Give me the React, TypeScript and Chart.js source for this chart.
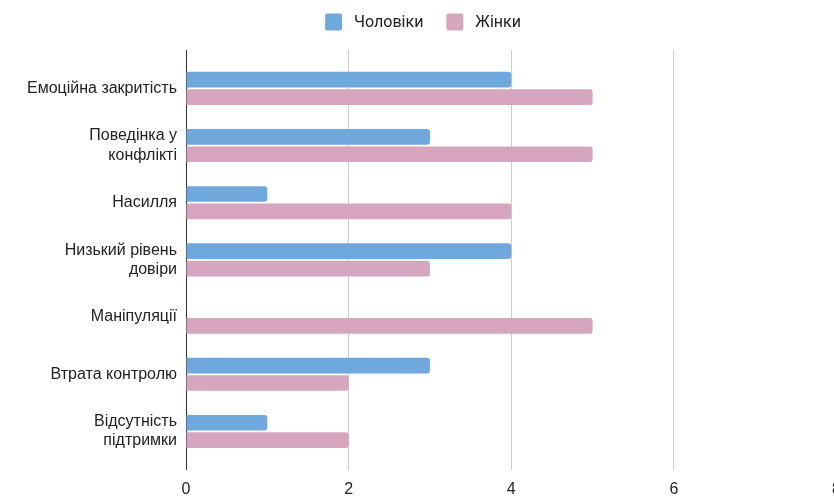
import { useEffect, useRef } from "react";
import { Chart, registerables } from "chart.js";

Chart.register(...registerables);

// ---- data ----
const categories: string[][] = [
  ["Емоційна закритість"],
  ["Поведінка у", "конфлікті"],
  ["Насилля"],
  ["Низький рівень", "довіри"],
  ["Маніпуляції"],
  ["Втрата контролю"],
  ["Відсутність", "підтримки"],
];
const seriesNames = ["Чоловіки", "Жінки"];
const menValues = [4, 3, 1, 4, 0, 3, 1];
const womenValues = [5, 5, 4, 3, 5, 2, 2];
const xMin = 0;
const xMax = 8;
const xStep = 2;
const seriesColors = ["#6fa8dc", "#d5a6bd"];

const legendPlugin = {
  id: "sheetLegend",
  afterDraw(chart: any) {
    const ctx = chart.ctx as CanvasRenderingContext2D;
    const ds = chart.data.datasets;
    ctx.save();
    ctx.font = "16px Roboto";
    const box = 17;
    const gapText = 12;
    const gapItem = 23;
    const widths = ds.map((d: any) => ctx.measureText(d.label).width);
    let total = 0;
    widths.forEach((w: number, i: number) => {
      total += box + gapText + w + (i > 0 ? gapItem : 0);
    });
    let x = 423 - total / 2;
    const cy = 22;
    ds.forEach((d: any, i: number) => {
      ctx.fillStyle = d.backgroundColor;
      ctx.beginPath();
      if ((ctx as any).roundRect) (ctx as any).roundRect(x, cy - box / 2, box, box, 2);
      else ctx.rect(x, cy - box / 2, box, box);
      ctx.fill();
      ctx.fillStyle = "#222";
      ctx.textBaseline = "middle";
      ctx.textAlign = "left";
      ctx.fillText(d.label, x + box + gapText, cy + 1);
      x += box + gapText + widths[i] + gapItem;
    });
    ctx.restore();
  },
};

export default function App() {
  const ref = useRef<HTMLCanvasElement | null>(null);

  useEffect(() => {
    if (!ref.current) return;
    const chart = new Chart(ref.current, {
      type: "bar",
      data: {
        datasets: [
          {
            label: seriesNames[0],
            data: menValues.map((v, i) => ({ x: v, y: i })),
            backgroundColor: seriesColors[0],
            borderRadius: 3,
            borderSkipped: "start",
          },
          {
            label: seriesNames[1],
            data: womenValues.map((v, i) => ({ x: v, y: i })),
            backgroundColor: seriesColors[1],
            borderRadius: 3,
            borderSkipped: "start",
          },
        ],
      },
      options: {
        indexAxis: "y",
        responsive: false,
        animation: false,
        categoryPercentage: 0.61,
        barPercentage: 0.9,
        layout: { padding: { top: 50, right: 0, left: 0, bottom: -12 } },
        plugins: {
          legend: { display: false },
          tooltip: { enabled: false },
        },
        scales: {
          y: {
            type: "linear",
            reverse: true,
            offset: false,
            min: -0.67,
            max: categories.length - 1 + 0.67,
            grid: { display: false, drawTicks: false, offset: false },
            border: { display: false },
            afterFit: (scale: any) => {
              scale.width = 186;
            },
            ticks: {
              stepSize: 1,
              includeBounds: false,
              autoSkip: false,
              padding: 9,
              color: "#222",
              font: { family: "'Liberation Sans', Arial, sans-serif", size: 16 },
              callback: (v: any) => {
                const idx = Math.round(Number(v));
                return categories[idx] ?? "";
              },
            },
          },
          x: {
            type: "linear",
            min: xMin,
            max: xMax,
            grid: {
              drawTicks: false,
              color: (c: any) => (c.tick && c.tick.value === 0 ? "#333" : "#cccccc"),
              lineWidth: 1,
            },
            border: { display: false },
            ticks: {
              stepSize: xStep,
              padding: 11,
              color: "#222",
              font: { family: "'Liberation Sans', Arial, sans-serif", size: 16, lineHeight: 1.1 },
            },
          },
        },
      } as any,
      plugins: [legendPlugin],
    });
    return () => chart.destroy();
  }, []);

  return (
    <div style={{ position: "fixed", top: 0, left: 0, width: 834, height: 498, overflow: "hidden" }}>
      <canvas ref={ref} width={852} height={498} style={{ width: 852, height: 498, display: "block" }} />
    </div>
  );
}
